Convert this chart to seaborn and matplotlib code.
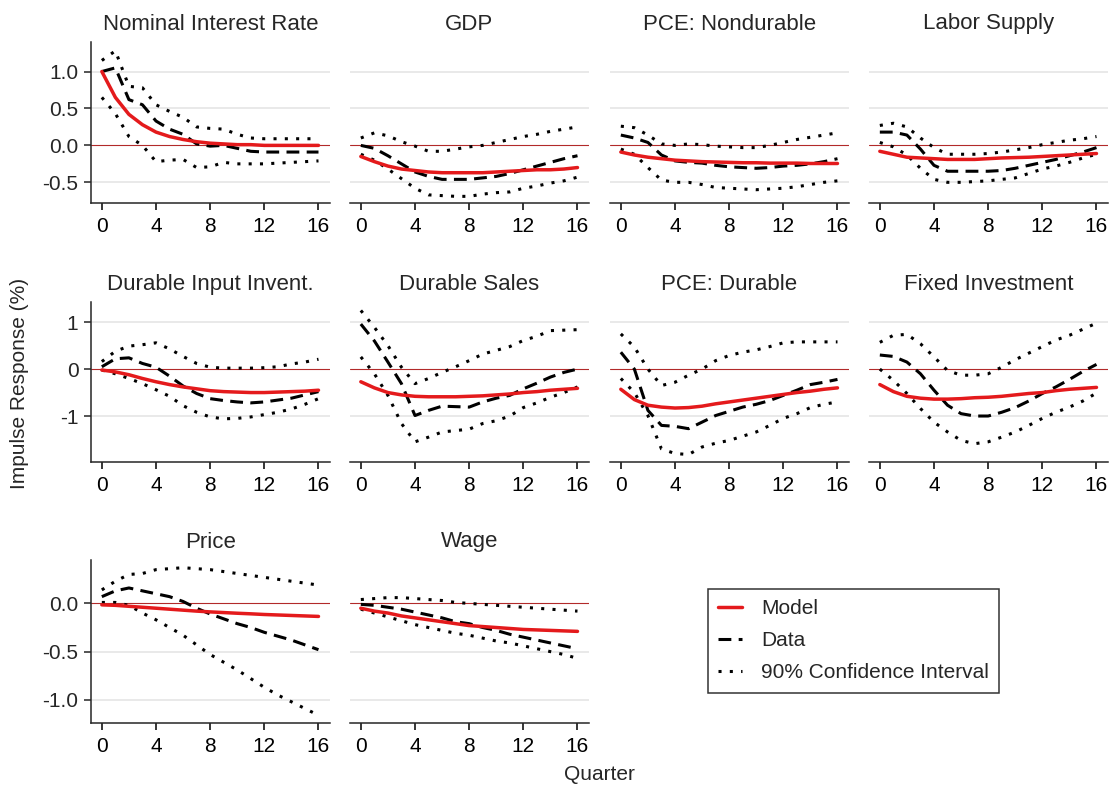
import matplotlib
matplotlib.use("Agg")
import matplotlib.pyplot as plt
import seaborn as sns
import pandas as pd

# ---------------- data ----------------
quarters = list(range(17))
titles = ["Nominal Interest Rate", "GDP", "PCE: Nondurable", "Labor Supply",
          "Durable Input Invent.", "Durable Sales", "PCE: Durable", "Fixed Investment",
          "Price", "Wage"]
series_labels = ["Model", "Data", "90% Confidence Interval"]
x_ticks = [0, 4, 8, 12, 16]
row_yticks = [[-0.5, 0.0, 0.5, 1.0], [-1, 0, 1], [-1.0, -0.5, 0.0]]
row_ytick_labels = [["-0.5", "0.0", "0.5", "1.0"], ["-1", "0", "1"], ["-1.0", "-0.5", "0.0"]]
y_label = "Impulse Response (%)"
x_label = "Quarter"

nominal_model = [1.00, 0.65, 0.42, 0.28, 0.18, 0.12, 0.08, 0.05, 0.03, 0.02, 0.01, 0.01, 0.00, 0.00, 0.00, 0.00, 0.00]
nominal_data = [1.00, 1.05, 0.62, 0.55, 0.33, 0.22, 0.15, 0.02, -0.01, 0.00, -0.04, -0.08, -0.09, -0.09, -0.09, -0.09, -0.09]
nominal_hi = [1.15, 1.28, 0.80, 0.78, 0.55, 0.46, 0.38, 0.25, 0.23, 0.22, 0.15, 0.10, 0.09, 0.09, 0.09, 0.09, 0.09]
nominal_lo = [0.65, 0.43, 0.12, 0.00, -0.22, -0.20, -0.19, -0.30, -0.29, -0.23, -0.25, -0.25, -0.25, -0.24, -0.23, -0.22, -0.21]

gdp_model = [-0.15, -0.22, -0.28, -0.32, -0.34, -0.36, -0.37, -0.37, -0.37, -0.37, -0.36, -0.35, -0.34, -0.33, -0.33, -0.32, -0.30]
gdp_data = [0.00, -0.04, -0.14, -0.25, -0.36, -0.42, -0.46, -0.46, -0.46, -0.44, -0.42, -0.38, -0.33, -0.28, -0.23, -0.18, -0.14]
gdp_hi = [0.10, 0.17, 0.13, 0.05, -0.01, -0.08, -0.08, -0.05, -0.02, 0.00, 0.04, 0.08, 0.12, 0.15, 0.19, 0.22, 0.25]
gdp_lo = [-0.12, -0.20, -0.32, -0.45, -0.58, -0.67, -0.68, -0.69, -0.69, -0.66, -0.64, -0.63, -0.58, -0.55, -0.51, -0.48, -0.43]

pcend_model = [-0.09, -0.13, -0.16, -0.18, -0.20, -0.21, -0.22, -0.225, -0.23, -0.235, -0.235, -0.24, -0.24, -0.24, -0.245, -0.245, -0.245]
pcend_data = [0.14, 0.10, 0.04, -0.13, -0.21, -0.23, -0.24, -0.27, -0.29, -0.30, -0.31, -0.30, -0.28, -0.27, -0.25, -0.22, -0.18]
pcend_hi = [0.26, 0.24, 0.14, 0.02, 0.00, 0.02, 0.01, -0.01, -0.02, -0.03, -0.03, 0.00, 0.04, 0.08, 0.11, 0.14, 0.17]
pcend_lo = [-0.05, -0.12, -0.30, -0.47, -0.50, -0.50, -0.53, -0.57, -0.58, -0.59, -0.60, -0.59, -0.58, -0.56, -0.53, -0.50, -0.48]

labor_model = [-0.08, -0.12, -0.16, -0.17, -0.18, -0.19, -0.19, -0.19, -0.18, -0.17, -0.165, -0.16, -0.15, -0.14, -0.13, -0.12, -0.11]
labor_data = [0.18, 0.18, 0.14, -0.05, -0.27, -0.35, -0.35, -0.35, -0.35, -0.34, -0.31, -0.27, -0.23, -0.19, -0.14, -0.09, -0.03]
labor_hi = [0.27, 0.30, 0.25, 0.10, -0.03, -0.12, -0.12, -0.12, -0.11, -0.09, -0.06, -0.03, 0.01, 0.04, 0.07, 0.09, 0.12]
labor_lo = [0.04, -0.02, -0.13, -0.31, -0.46, -0.50, -0.50, -0.49, -0.48, -0.46, -0.44, -0.38, -0.32, -0.28, -0.23, -0.17, -0.12]

invent_model = [-0.02, -0.06, -0.12, -0.20, -0.27, -0.33, -0.38, -0.42, -0.46, -0.48, -0.49, -0.50, -0.50, -0.49, -0.48, -0.47, -0.45]
invent_data = [0.05, 0.22, 0.24, 0.12, 0.04, -0.15, -0.36, -0.52, -0.63, -0.67, -0.70, -0.72, -0.70, -0.66, -0.62, -0.55, -0.48]
invent_hi = [0.16, 0.38, 0.49, 0.52, 0.56, 0.43, 0.27, 0.12, 0.04, 0.02, 0.02, 0.02, 0.03, 0.05, 0.11, 0.15, 0.21]
invent_lo = [-0.02, -0.10, -0.20, -0.31, -0.44, -0.58, -0.78, -0.92, -1.02, -1.06, -1.05, -1.02, -0.97, -0.92, -0.85, -0.75, -0.63]

sales_model = [-0.27, -0.40, -0.50, -0.55, -0.58, -0.59, -0.59, -0.59, -0.58, -0.57, -0.55, -0.53, -0.50, -0.48, -0.45, -0.43, -0.41]
sales_data = [0.96, 0.60, 0.15, -0.31, -0.99, -0.88, -0.79, -0.80, -0.81, -0.70, -0.62, -0.56, -0.42, -0.30, -0.17, -0.07, 0.00]
sales_hi = [1.25, 0.89, 0.50, 0.04, -0.31, -0.20, -0.07, 0.05, 0.18, 0.32, 0.40, 0.48, 0.61, 0.70, 0.82, 0.83, 0.84]
sales_lo = [0.26, -0.10, -0.56, -1.16, -1.55, -1.45, -1.34, -1.31, -1.28, -1.16, -1.10, -1.00, -0.82, -0.72, -0.60, -0.50, -0.38]

pced_model = [-0.43, -0.65, -0.77, -0.81, -0.83, -0.82, -0.79, -0.74, -0.70, -0.66, -0.62, -0.58, -0.54, -0.50, -0.47, -0.43, -0.40]
pced_data = [0.36, 0.00, -0.88, -1.20, -1.22, -1.27, -1.13, -0.99, -0.90, -0.81, -0.75, -0.67, -0.56, -0.45, -0.33, -0.28, -0.22]
pced_hi = [0.75, 0.47, 0.00, -0.35, -0.28, -0.13, 0.00, 0.18, 0.29, 0.36, 0.41, 0.48, 0.56, 0.58, 0.58, 0.58, 0.58]
pced_lo = [-0.20, -0.50, -0.99, -1.70, -1.80, -1.82, -1.66, -1.58, -1.52, -1.43, -1.34, -1.20, -1.05, -0.95, -0.82, -0.75, -0.70]

fixinv_model = [-0.33, -0.48, -0.58, -0.62, -0.64, -0.64, -0.63, -0.61, -0.60, -0.58, -0.55, -0.52, -0.50, -0.46, -0.43, -0.41, -0.39]
fixinv_data = [0.30, 0.27, 0.15, -0.10, -0.45, -0.77, -0.95, -1.00, -1.00, -0.92, -0.82, -0.68, -0.52, -0.38, -0.22, -0.05, 0.10]
fixinv_hi = [0.57, 0.72, 0.74, 0.54, 0.26, -0.03, -0.13, -0.13, -0.10, 0.04, 0.20, 0.34, 0.48, 0.62, 0.72, 0.85, 0.98]
fixinv_lo = [0.00, -0.24, -0.52, -0.84, -1.13, -1.34, -1.52, -1.59, -1.55, -1.45, -1.34, -1.20, -1.05, -0.92, -0.81, -0.68, -0.51]

price_model = [-0.015, -0.02, -0.03, -0.04, -0.05, -0.06, -0.07, -0.08, -0.088, -0.095, -0.102, -0.108, -0.115, -0.12, -0.125, -0.13, -0.135]
price_data = [0.07, 0.13, 0.16, 0.13, 0.10, 0.07, 0.02, -0.05, -0.11, -0.16, -0.21, -0.25, -0.30, -0.34, -0.38, -0.43, -0.48]
price_hi = [0.14, 0.23, 0.30, 0.31, 0.35, 0.36, 0.37, 0.36, 0.35, 0.33, 0.31, 0.29, 0.27, 0.25, 0.23, 0.21, 0.19]
price_lo = [0.01, 0.01, -0.02, -0.10, -0.17, -0.25, -0.33, -0.43, -0.53, -0.61, -0.69, -0.78, -0.87, -0.95, -1.02, -1.09, -1.16]

wage_model = [-0.05, -0.08, -0.10, -0.13, -0.15, -0.17, -0.19, -0.21, -0.23, -0.24, -0.25, -0.26, -0.27, -0.275, -0.28, -0.285, -0.29]
wage_data = [-0.01, -0.02, -0.04, -0.06, -0.09, -0.12, -0.15, -0.19, -0.21, -0.25, -0.28, -0.32, -0.35, -0.38, -0.41, -0.44, -0.47]
wage_hi = [0.04, 0.05, 0.06, 0.06, 0.05, 0.04, 0.03, 0.01, 0.00, -0.01, -0.02, -0.03, -0.04, -0.05, -0.06, -0.07, -0.08]
wage_lo = [-0.06, -0.10, -0.14, -0.18, -0.22, -0.25, -0.28, -0.31, -0.33, -0.36, -0.39, -0.41, -0.44, -0.47, -0.50, -0.53, -0.57]

panels = [
    (nominal_model, nominal_data, nominal_hi, nominal_lo),
    (gdp_model, gdp_data, gdp_hi, gdp_lo),
    (pcend_model, pcend_data, pcend_hi, pcend_lo),
    (labor_model, labor_data, labor_hi, labor_lo),
    (invent_model, invent_data, invent_hi, invent_lo),
    (sales_model, sales_data, sales_hi, sales_lo),
    (pced_model, pced_data, pced_hi, pced_lo),
    (fixinv_model, fixinv_data, fixinv_hi, fixinv_lo),
    (price_model, price_data, price_hi, price_lo),
    (wage_model, wage_data, wage_hi, wage_lo),
]

# ---------------- style ----------------
sns.set_theme(style="ticks")
plt.rcParams["font.family"] = ["Liberation Sans", "DejaVu Sans"]
plt.rcParams["axes.linewidth"] = 1.1
plt.rcParams["xtick.major.width"] = 1.1
plt.rcParams["ytick.major.width"] = 1.1
plt.rcParams["xtick.major.size"] = 5
plt.rcParams["ytick.major.size"] = 5

RED = "#e41a1c"
ZERO = "#b22a2a"
GRID = "#e3e3e3"
LW = 2.2
DASH = (0, (4.2, 2.4))
DOT = (0, (1.0, 2.7))

W, H = 1112, 791
fig = plt.figure(figsize=(W / 100, H / 100), dpi=100)

col_left = [91, 350, 610, 869]
ax_w = 239
row_top = [42, 302, 560]
row_bot = [203, 462, 723]
row_ylim = [(-0.78, 1.40), (-1.98, 1.43), (-1.24, 0.45)]

axes = []
for i, (title, (m, d, hi, lo)) in enumerate(zip(titles, panels)):
    r, c = divmod(i, 4)
    ax = fig.add_axes([col_left[c] / W, 1 - row_bot[r] / H, ax_w / W,
                       (row_bot[r] - row_top[r]) / H])
    axes.append(ax)
    for yv in row_yticks[r]:
        if yv != 0:
            ax.axhline(yv, color=GRID, lw=1.1, zorder=0)
    ax.axhline(0, color=ZERO, lw=0.8, zorder=1)
    df = pd.DataFrame({"q": quarters, "model": m, "data": d, "hi": hi, "lo": lo})
    sns.lineplot(data=df, x="q", y="hi", ax=ax, color="black", lw=LW, linestyle=DOT,
                 label=series_labels[2] if i == 0 else None, zorder=3)
    sns.lineplot(data=df, x="q", y="lo", ax=ax, color="black", lw=LW, linestyle=DOT, zorder=3)
    sns.lineplot(data=df, x="q", y="data", ax=ax, color="black", lw=LW, linestyle=DASH,
                 label=series_labels[1] if i == 0 else None, zorder=4)
    sns.lineplot(data=df, x="q", y="model", ax=ax, color=RED, lw=LW + 0.3,
                 label=series_labels[0] if i == 0 else None, zorder=5)
    if ax.get_legend() is not None:
        ax.get_legend().remove()
    ax.set_xlim(-0.8, 16.85)
    ax.set_ylim(*row_ylim[r])
    ax.set_xticks(x_ticks)
    ax.set_xticklabels([str(t) for t in x_ticks], fontsize=15)
    ax.tick_params(axis="x", pad=5, colors="black", labelcolor="black")
    ax.set_title(title, fontsize=16, pad=9)
    ax.set_xlabel("")
    ax.set_ylabel("")
    ax.spines["top"].set_visible(False)
    ax.spines["right"].set_visible(False)
    if c == 0:
        ax.set_yticks(row_yticks[r])
        ax.set_yticklabels(row_ytick_labels[r], fontsize=15)
        ax.tick_params(axis="y", pad=4)
    else:
        ax.spines["left"].set_visible(False)
        ax.set_yticks([])

# legend
h, l = axes[0].get_legend_handles_labels()
order = [l.index(s) for s in series_labels]
leg = fig.legend([h[k] for k in order], [l[k] for k in order],
                 loc="upper left", bbox_to_anchor=(708 / W, 1 - 589 / H),
                 borderaxespad=0, fontsize=15, frameon=True, fancybox=False,
                 edgecolor="black", handlelength=1.15, handletextpad=0.9,
                 labelspacing=0.62, borderpad=0.5)
leg.get_frame().set_linewidth(1.1)

fig.text(20 / W, 1 - 383 / H, y_label, rotation=90, ha="center", va="center", fontsize=15)
fig.text(599 / W, 1 - 775 / H, x_label, ha="center", va="center", fontsize=15)

fig.savefig("out.png", dpi=100)
